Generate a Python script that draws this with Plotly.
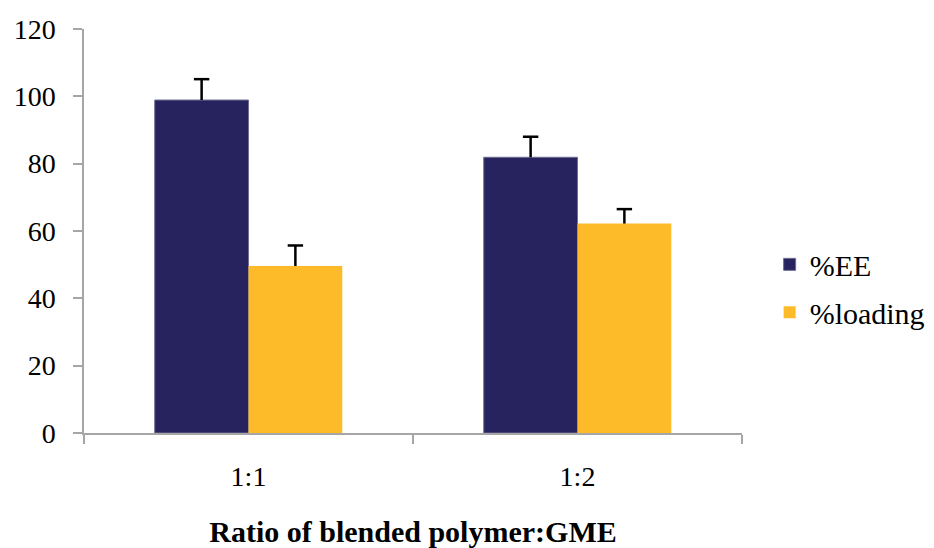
import plotly.graph_objects as go

categories = ["1:1", "1:2"]
ee_values = [98.9, 81.9]
ee_errors = [6.2, 6.1]
loading_values = [49.6, 62.2]
loading_errors = [6.1, 4.3]
y_ticks = [0, 20, 40, 60, 80, 100, 120]

FONT = "Liberation Serif"

fig = go.Figure()
series = [
    ("%EE", ee_values, ee_errors, "#27235F", dict(color="#6E6C94", width=1), "a"),
    ("%loading", loading_values, loading_errors, "#FDBA29", dict(width=0), "b"),
]
for name, vals, errs, col, line, grp in series:
    fig.add_trace(go.Bar(
        name=name, x=categories, y=vals, legendgroup=grp, offsetgroup=grp,
        marker=dict(color=col, line=line),
        error_y=dict(type="data", array=errs, arrayminus=[0] * len(errs),
                     symmetric=False, color="black", thickness=2.5, width=0),
    ))
for name, vals, errs, col, line, grp in series:
    fig.add_trace(go.Scatter(
        x=categories, y=[v + e for v, e in zip(vals, errs)],
        mode="markers", offsetgroup=grp, legendgroup=grp, showlegend=False,
        hoverinfo="skip",
        marker=dict(symbol="line-ew-open", size=11, color="black",
                    line=dict(color="black", width=2.5)),
    ))

axis_col = "#A6A6A6"
fig.update_layout(
    width=934, height=548,
    margin=dict(l=76, r=198, t=21, b=123),
    paper_bgcolor="white", plot_bgcolor="white",
    barmode="group", bargap=0.43, bargroupgap=0,
    scattermode="group", scattergap=0.43,
    font=dict(family=FONT, size=28, color="black"),
    legend=dict(x=1.042, y=0.358, xanchor="left", yanchor="middle",
                font=dict(family=FONT, size=30, color="black"),
                tracegroupgap=6, bgcolor="rgba(0,0,0,0)"),
    xaxis=dict(showline=True, linecolor=axis_col, linewidth=1.5,
               ticks="outside", tickson="boundaries", ticklen=9,
               tickcolor=axis_col, tickwidth=1.5,
               showgrid=False, zeroline=False, automargin=False,
               tickfont=dict(family=FONT, size=28, color="black"),
               ticklabelstandoff=18,
               title=dict(text="<b>Ratio of blended polymer:GME</b>",
                          font=dict(family=FONT, size=30, color="black"),
                          standoff=30)),
    yaxis=dict(range=[0, 120], tickvals=y_ticks, showline=True,
               linecolor=axis_col, linewidth=1.5, ticks="outside",
               ticklen=9, tickcolor=axis_col, tickwidth=1.5,
               showgrid=False, zeroline=False, automargin=False,
               tickfont=dict(family=FONT, size=28, color="black"),
               ticklabelstandoff=12),
)

fig.write_html("out.html")
